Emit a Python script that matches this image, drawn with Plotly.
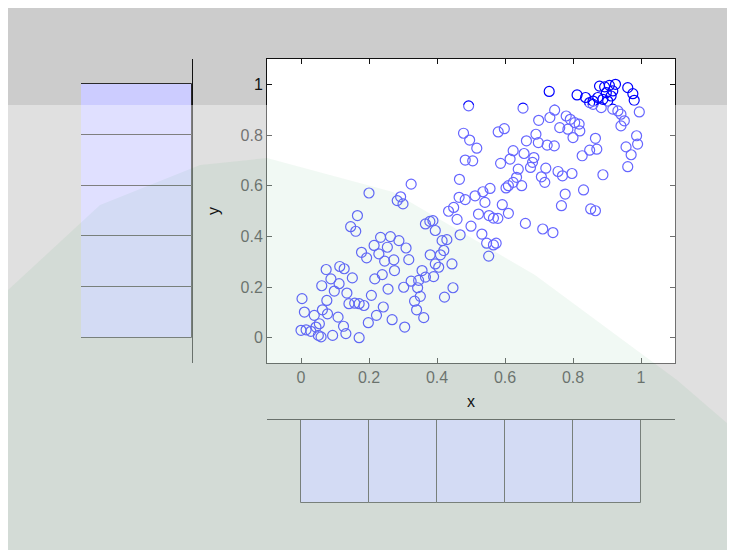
import plotly.graph_objects as go

# ---- data ----
x_vals = [0.730,0.493,0.653,0.812,0.837,0.849,0.859,0.878,0.893,0.907,0.925,0.898,0.917,0.873,0.888,0.902,0.912,0.961,0.976,0.980,
          0.859,0.883,0.917,0.932,0.941,0.995,0.951,0.941,0.746,0.732,0.699,0.780,0.792,0.805,0.818,0.761,0.785,0.820,0.800,0.478,
          0.496,0.517,0.483,0.505,0.580,0.598,0.663,0.691,0.698,0.724,0.745,0.624,0.615,0.587,0.656,0.685,0.681,0.675,0.639,0.720,
          0.756,0.769,0.797,0.707,0.717,0.866,0.870,0.849,0.827,0.987,0.990,0.956,0.971,0.961,0.888,0.634,0.624,0.610,0.603,0.649,
          0.466,0.324,0.200,0.293,0.283,0.300,0.556,0.535,0.512,0.465,0.483,0.449,0.434,0.459,0.500,0.468,0.777,0.766,0.831,0.852,
          0.866,0.592,0.610,0.541,0.522,0.553,0.566,0.579,0.660,0.711,0.741,0.532,0.546,0.566,0.574,0.552,0.388,0.366,0.379,0.395,
          0.415,0.429,0.420,0.410,0.380,0.395,0.444,0.405,0.166,0.146,0.161,0.178,0.193,0.234,0.263,0.288,0.215,0.254,0.309,0.229,
          0.317,0.246,0.273,0.275,0.356,0.324,0.346,0.366,0.390,0.343,0.351,0.334,0.340,0.361,0.239,0.217,0.256,0.302,0.207,0.242,
          0.222,0.198,0.268,0.305,0.171,0.422,0.447,0.074,0.114,0.127,0.088,0.151,0.061,0.112,0.098,0.076,0.135,0.141,0.171,0.185,
          0.158,0.003,0.010,0.039,0.063,0.078,0.109,0.054,0.000,0.015,0.029,0.044,0.051,0.059,0.093,0.125,0.132]
y_vals = [0.972,0.915,0.906,0.958,0.948,0.928,0.934,0.993,0.990,0.996,1.000,0.967,0.974,0.948,0.941,0.934,0.954,0.987,0.963,0.937,
          0.921,0.908,0.902,0.895,0.882,0.891,0.856,0.836,0.898,0.869,0.858,0.875,0.862,0.849,0.843,0.829,0.823,0.816,0.790,0.807,
          0.780,0.748,0.701,0.698,0.812,0.825,0.777,0.803,0.770,0.760,0.757,0.738,0.705,0.688,0.727,0.711,0.692,0.672,0.665,0.669,
          0.656,0.639,0.648,0.635,0.613,0.787,0.744,0.740,0.718,0.797,0.764,0.753,0.722,0.675,0.643,0.633,0.613,0.600,0.591,0.600,
          0.625,0.606,0.571,0.556,0.541,0.528,0.589,0.576,0.560,0.554,0.545,0.514,0.499,0.467,0.440,0.406,0.567,0.521,0.583,0.508,
          0.501,0.525,0.491,0.534,0.488,0.482,0.472,0.471,0.451,0.429,0.415,0.409,0.373,0.366,0.373,0.322,0.462,0.449,0.459,0.423,
          0.383,0.387,0.344,0.327,0.327,0.291,0.291,0.278,0.482,0.438,0.420,0.337,0.315,0.396,0.399,0.383,0.364,0.357,0.354,0.331,
          0.308,0.302,0.307,0.265,0.265,0.223,0.226,0.239,0.241,0.197,0.163,0.144,0.110,0.079,0.249,0.232,0.192,0.199,0.167,0.121,
          0.088,0.059,0.071,0.042,0.000,0.160,0.197,0.269,0.281,0.272,0.232,0.236,0.205,0.213,0.184,0.147,0.176,0.134,0.134,0.127,
          0.136,0.154,0.101,0.088,0.110,0.094,0.081,0.055,0.029,0.031,0.025,0.042,0.009,0.003,0.009,0.045,0.016]

bin_centers = [0.1, 0.3, 0.5, 0.7, 0.9]
x_hist_counts = [50, 50, 50, 50, 50]
y_hist_counts = [50, 50, 50, 50, 50]
tick_vals = [0, 0.2, 0.4, 0.6, 0.8, 1]
tick_text = ["0", "0.2", "0.4", "0.6", "0.8", "1"]

# the page body adds an 8 px margin, so the figure is placed at (8, 8) in the window
OFF = 8
W, H = 735 - OFF, 550 - OFF
def px(v): return (v - OFF) / W
def py(v): return 1 - (v - OFF) / H

FONT = "Liberation Sans, Arial, sans-serif"
AX = "#111111"
BAR_FILL = "#ccccff"
BAR_LINE = "#2a2a2a"

fig = go.Figure()

fig.add_trace(go.Scatter(
    x=x_vals, y=y_vals, mode="markers", xaxis="x", yaxis="y",
    marker=dict(symbol="circle-open", size=10, color="#0000ff", line=dict(width=1.2, color="#0000ff")),
    hoverinfo="x+y", showlegend=False))

fig.add_trace(go.Bar(
    y=bin_centers, x=y_hist_counts, orientation="h", width=0.2, xaxis="x2", yaxis="y2",
    marker=dict(color=BAR_FILL, line=dict(color=BAR_LINE, width=1)), showlegend=False))

fig.add_trace(go.Bar(
    x=bin_centers, y=x_hist_counts, width=0.2, xaxis="x3", yaxis="y3",
    marker=dict(color=BAR_FILL, line=dict(color=BAR_LINE, width=1)), showlegend=False))

main_x_dom = [px(267), px(675)]
main_y_dom = [py(363), py(59)]

fig.update_layout(
    width=W, height=H, margin=dict(l=0, r=0, t=0, b=0),
    paper_bgcolor="white", plot_bgcolor="rgba(0,0,0,0)",
    font=dict(family=FONT, size=16, color=AX),
    bargap=0,
    xaxis=dict(domain=main_x_dom, range=[-0.1, 1.1], tickvals=tick_vals, ticktext=tick_text,
               ticks="inside", ticklen=5, tickcolor=AX, showline=True, linecolor=AX, linewidth=1,
               mirror="ticks", showgrid=False, zeroline=False, anchor="y",
               title=dict(text="x", standoff=10, font=dict(size=16, color=AX))),
    yaxis=dict(domain=main_y_dom, range=[-0.1, 1.1], tickvals=tick_vals, ticktext=tick_text,
               ticks="inside", ticklen=5, tickcolor=AX, showline=True, linecolor=AX, linewidth=1,
               mirror="ticks", showgrid=False, zeroline=False, anchor="x",
               title=dict(text="y", standoff=16, font=dict(size=16, color=AX))),
    xaxis2=dict(domain=[px(81), px(192)], range=[50, 0], visible=False, anchor="y2", fixedrange=True),
    yaxis2=dict(domain=main_y_dom, range=[-0.1, 1.1], anchor="x2", side="right", showline=True,
                linecolor=AX, linewidth=1, showticklabels=False, ticks="", showgrid=False, zeroline=False),
    xaxis3=dict(domain=main_x_dom, range=[-0.1, 1.1], anchor="y3", side="top", showline=True,
                linecolor=AX, linewidth=1, showticklabels=False, ticks="", showgrid=False, zeroline=False),
    yaxis3=dict(domain=[py(503), py(420)], range=[50, 0], visible=False, anchor="x3"),
    shapes=[
        # screenshot gray background
        dict(type="rect", xref="paper", yref="paper", x0=0, x1=1, y0=0, y1=1,
             fillcolor="#cccccc", line=dict(width=0), layer="below"),
        # white plot area
        dict(type="rect", xref="x domain", yref="y domain", x0=0, x1=1, y0=0, y1=1,
             fillcolor="white", line=dict(width=0), layer="below"),
        # translucent page overlay on lower part
        dict(type="rect", xref="paper", yref="paper", x0=0, x1=1, y0=0, y1=py(105),
             fillcolor="rgba(255,255,255,0.4)", line=dict(width=0), layer="above"),
        # faint green watermark tint
        dict(type="path", xref="paper", yref="paper",
             path=("M %f,%f L %f,%f L %f,%f L %f,%f L %f,%f L %f,%f L %f,%f L %f,%f L %f,%f L %f,%f Z" % (
                 px(8), py(290), px(100), py(205), px(200), py(165), px(267), py(158), px(393), py(192),
                 px(535), py(275), px(677), py(380), px(735), py(430), px(735), py(550), px(8), py(550))),
             fillcolor="rgba(0,150,60,0.055)", line=dict(width=0), layer="above"),
    ],
)

fig.write_html("out.html")
